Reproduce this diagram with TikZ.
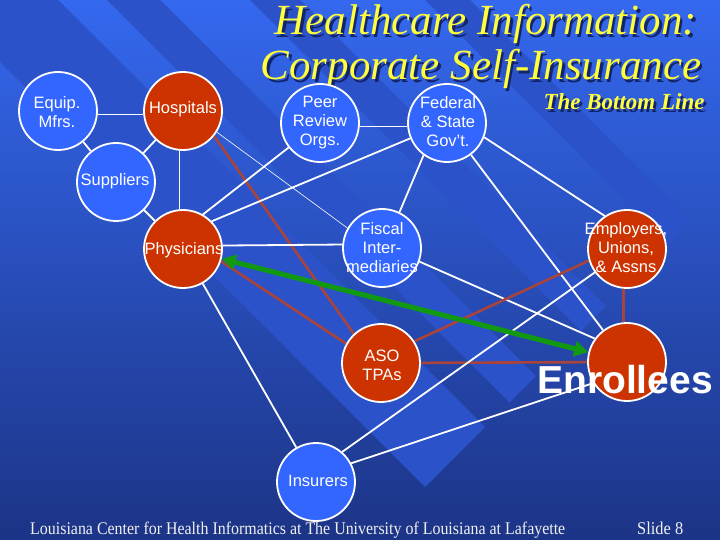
\documentclass[tikz,border=0pt]{standalone}
\usepackage{fontspec}
\setmainfont{Liberation Serif}
\setsansfont{Liberation Sans}
\usetikzlibrary{arrows.meta}
\pgfdeclarelayer{bglayer}
\pgfdeclarelayer{edgelayer}
\pgfsetlayers{bglayer,edgelayer,main}
\definecolor{bgtop}{HTML}{3468EE}
\definecolor{bgbot}{HTML}{1C3486}
\definecolor{bandc}{HTML}{2B52C8}
\definecolor{nodeblue}{HTML}{3366FF}
\definecolor{nodered}{HTML}{CC3300}
\definecolor{linkred}{HTML}{A8443C}
\definecolor{arrowgreen}{HTML}{119A11}
\definecolor{titleyellow}{HTML}{FFFF3C}
\definecolor{shadowc}{HTML}{14246A}
\definecolor{footc}{HTML}{F0F0F0}
\newcommand{\diagband}[3]{% c1, c2, e : strip c1<=x-y<=c2, cut at x+y=e
  \fill[bandc] ({(#1+#3)/2},{(#3-#1)/2}) -- ({(#2+#3)/2},{(#3-#2)/2})
     -- ({(#2-1200)/2},{(-1200-#2)/2}) -- ({(#1-1200)/2},{(-1200-#1)/2}) -- cycle;}
\newcommand{\shadowtext}[1]{\rlap{\kern2.5pt\raisebox{-2.5pt}{\textcolor{shadowc}{#1}}}#1}
\begin{document}
\begin{tikzpicture}[x=1pt,y=-1pt,
  circ/.style={circle,draw=white,line width=1.8pt,minimum size=78pt,inner sep=0pt},
  bluec/.style={circ,fill=nodeblue},
  redc/.style={circ,fill=nodered},
  ntext/.style={text=white,font=\sffamily\fontsize{16.5}{19}\selectfont,align=center,inner sep=0pt},
  wlink/.style={draw=white,line width=1.8pt},
  thinlink/.style={draw=white,line width=0.6pt},
  rlink/.style={draw=linkred,line width=2.6pt},
  glink/.style={draw=arrowgreen,line width=5pt,
     {Triangle[length=14pt,width=15pt]}-{Triangle[length=14pt,width=15pt]}},
  titletext/.style={text=titleyellow,font=\fontsize{43}{47}\selectfont\itshape,inner sep=0pt,anchor=base},
  subtext/.style={text=titleyellow,font=\fontsize{23}{26}\selectfont\bfseries\itshape,inner sep=0pt,anchor=base},
  foot/.style={text=footc,inner sep=0pt,anchor=base west}
]
\useasboundingbox (0,0) rectangle (720,540);
\begin{pgfonlayer}{bglayer}
\shade[top color=bgtop,bottom color=bgbot] (0,0) rectangle (720,540);
\begin{scope}
\clip (0,0) rectangle (720,540);
\diagband{-62}{58}{912}
\diagband{107}{160}{912}
\diagband{250}{300}{912}
\diagband{425}{470}{912}
\end{scope}
\end{pgfonlayer}

% title
\node[titletext] (t1) at (486,35) {\shadowtext{Healthcare Information:}};
\node[titletext] (t2) at (481,80) {\shadowtext{Corporate Self-Insurance}};
\node[subtext] (t3) at (624,110) {\shadowtext{The Bottom Line}};

% circles
\node[bluec] (equip) at (58,111) {};
\node[redc]  (hosp)  at (183,111) {};
\node[bluec] (supp)  at (116,182) {};
\node[bluec] (peer)  at (320,123) {};
\node[bluec] (fed)   at (447,123) {};
\node[redc]  (phys)  at (183,249) {};
\node[bluec] (fisc)  at (382,248) {};
\node[redc]  (emp)   at (627,249) {};
\node[redc]  (aso)   at (381,363) {};
\node[redc]  (enr)   at (627,362) {};
\node[bluec] (ins)   at (316,482) {};

\begin{pgfonlayer}{edgelayer}
\draw[wlink] (equip.-5) -- (hosp.185);
\draw[wlink] (equip) -- (supp);
\draw[wlink] (supp) -- (hosp);
\draw[wlink] (supp) -- (phys);
\draw[wlink] (hosp.265) -- (phys.95);
\draw[thinlink] (hosp.-32) -- (fisc.150);
\draw[rlink] (hosp.-39) -- (aso.133);
\draw[wlink] (phys.60) -- (peer);
\draw[wlink] (phys.44) -- (fed);
\draw[wlink] (phys.5) -- (fisc.175);
\draw[wlink] (phys) -- (ins);
\draw[rlink] (phys.-18) -- (aso.151);
\draw[wlink] (peer.-5) -- (fed.185);
\draw[wlink] (fed.234) -- (fisc.64);
\draw[wlink] (fed) -- (enr);
\draw[wlink] (fed.-21) -- (emp.124);
\draw[wlink] (fisc.-20) -- (enr.144);
\draw[rlink] (aso.33) -- (emp.197);
\draw[rlink] (aso) -- (enr);
\draw[rlink] (emp.265) -- (enr.95);
\draw[wlink] (emp.216) -- (ins.49);
\draw[wlink] (ins.28) -- (enr.212);
\draw[glink] (phys) -- (enr);
\end{pgfonlayer}

% node texts
\node[ntext] (equipT) at (57,112) {Equip.\\Mfrs.};
\node[ntext] (hospT)  at (183,109) {Hospitals};
\node[ntext] (suppT)  at (115,181) {Suppliers};
\node[ntext] (peerT)  at (320,123) {Peer\\Review\\Orgs.};
\node[ntext] (fedT)   at (448,122) {Federal\\\& State\\Gov’t.};
\node[ntext] (physT)  at (184,250) {Physicians};
\node[ntext] (fiscT)  at (382,248) {Fiscal\\Inter-\\mediaries};
\node[ntext] (empT)   at (626,248) {Employers,\\Unions,\\\& Assns};
\node[ntext] (asoT)   at (382,365) {ASO\\TPAs};
\node[ntext] (insT)   at (318,481) {Insurers};
\node[text=white,font=\sffamily\bfseries\fontsize{39}{44}\selectfont,inner sep=0pt,anchor=base] (enrT) at (625,393) {Enrollees};

% footer
\node[foot] (footL) at (30,534) {\resizebox{535pt}{12.5pt}{Louisiana Center for Health Informatics at The University of Louisiana at Lafayette}};
\node[foot] (footR) at (637,534) {\resizebox{46pt}{12.5pt}{Slide 8}};
\end{tikzpicture}
\end{document}
